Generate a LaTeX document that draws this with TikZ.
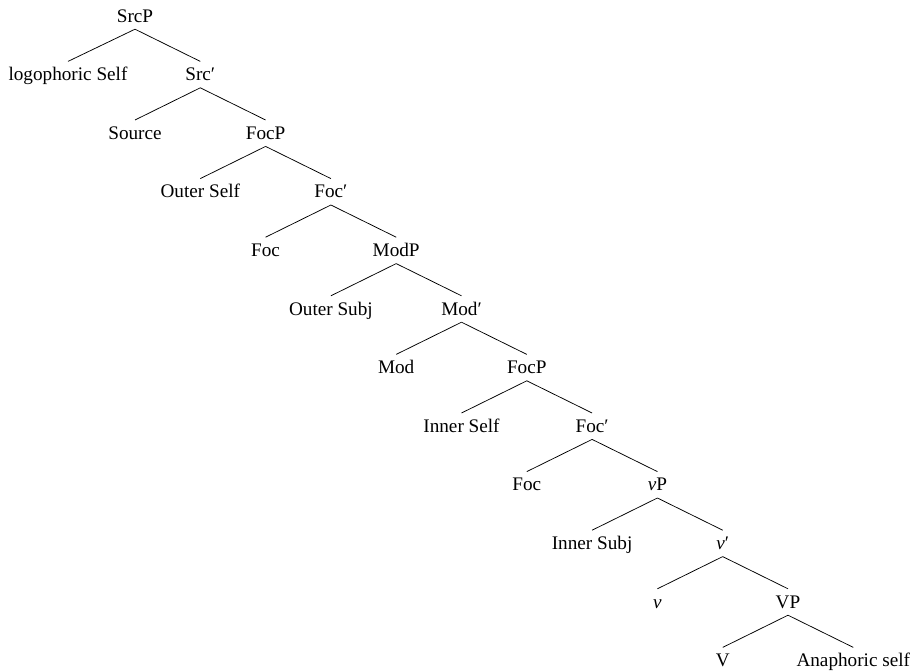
\documentclass[tikz,border=0pt]{standalone}
\usepackage{fontspec}
\setmainfont{Liberation Serif}
\begin{document}
\begin{tikzpicture}[x=1pt,y=-1pt,
  lab/.style={anchor=base,font=\fontsize{19.2}{21}\selectfont,text height=16pt,text depth=4pt,inner xsep=0pt,inner ysep=3pt},
  br/.style={line width=0.75pt}]
\useasboundingbox (0,0) rectangle (919,672);
% spine
\node[lab] (n0)  at (135,22) {SrcP};
\node[lab] (n1)  at (200.3,80.6) {Src′};
\node[lab] (n2)  at (265.6,139.2) {FocP};
\node[lab] (n3)  at (330.9,197.8) {Foc′};
\node[lab] (n4)  at (396.2,256.4) {ModP};
\node[lab] (n5)  at (461.5,315) {Mod′};
\node[lab] (n6)  at (526.8,373.6) {FocP};
\node[lab] (n7)  at (592.1,432.2) {Foc′};
\node[lab] (n8)  at (657.4,490.8) {\textit{v}P};
\node[lab] (n9)  at (722.7,549.4) {\textit{v}′};
\node[lab] (n10) at (788,608) {VP};
\node[lab] (n11) at (853.3,666.6) {Anaphoric self};
% left daughters
\node[lab] (l1)  at (68,80.6) {logophoric Self};
\node[lab] (l2)  at (135,139.2) {Source};
\node[lab] (l3)  at (200.3,197.8) {Outer Self};
\node[lab] (l4)  at (265.6,256.4) {Foc};
\node[lab] (l5)  at (330.9,315) {Outer Subj};
\node[lab] (l6)  at (396.2,373.6) {Mod};
\node[lab] (l7)  at (461.5,432.2) {Inner Self};
\node[lab] (l8)  at (526.8,490.8) {Foc};
\node[lab] (l9)  at (592.1,549.4) {Inner Subj};
\node[lab] (l10) at (657.4,608) {\textit{v}};
\node[lab] (l11) at (722.7,666.6) {V};
% branches
\foreach \p/\c in {0/1,1/2,2/3,3/4,4/5,5/6,6/7,7/8,8/9,9/10,10/11}{
  \draw[br] (n\p.south) -- (n\c.north);
  \draw[br] (n\p.south) -- (l\c.north);
}
\end{tikzpicture}
\end{document}
